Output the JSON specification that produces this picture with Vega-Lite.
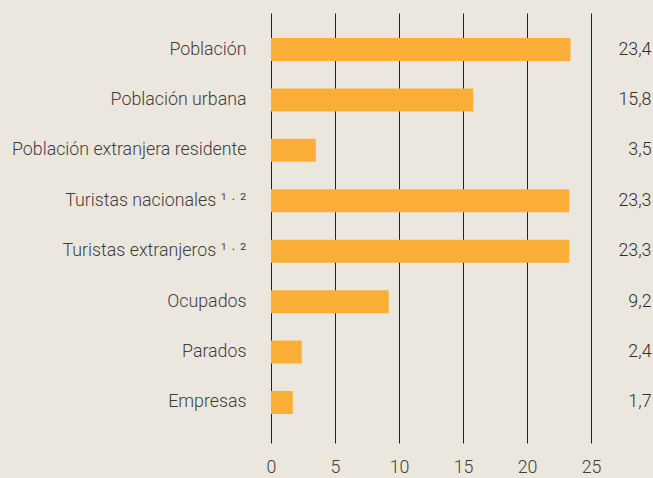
{
  "$schema": "https://vega.github.io/schema/vega-lite/v6.json",
  "width": 320,
  "height": 430,
  "autosize": "none",
  "padding": {"left": 271, "top": 13, "right": 62, "bottom": 35},
  "background": "#ebe7de",
  "config": {
    "view": {"stroke": null},
    "font": "Roboto",
    "axis": {"labelFont": "Roboto", "labelFontWeight": 300, "labelFontSize": 17.8, "labelColor": "#3d3d3d"}
  },
  "data": {
    "values": [
      {"key": "Población|23,4", "value": 23.4},
      {"key": "Población urbana|15,8", "value": 15.8},
      {"key": "Población extranjera residente|3,5", "value": 3.5},
      {"key": "Turistas nacionales ¹ · ²|23,3", "value": 23.3},
      {"key": "Turistas extranjeros ¹ · ²|23,3", "value": 23.3},
      {"key": "Ocupados|9,2", "value": 9.2},
      {"key": "Parados|2,4", "value": 2.4},
      {"key": "Empresas|1,7", "value": 1.7}
    ]
  },
  "layer": [
    {
      "mark": {"type": "bar", "color": "#fbaf36"},
      "encoding": {
        "x": {
          "field": "value", "type": "quantitative",
          "scale": {"domain": [0, 25], "nice": false},
          "axis": {"title": null, "values": [0, 5, 10, 15, 20, 25], "grid": true, "gridColor": "#222222", "gridWidth": 1, "gridOpacity": 1, "domain": false, "ticks": false, "labelPadding": 15, "labelBaseline": "top", "labelFlush": false}
        },
        "y": {
          "field": "key", "type": "nominal", "sort": null,
          "scale": {"paddingInner": 0.544, "paddingOuter": 0.536, "align": 0.463},
          "axis": {"title": null, "domain": false, "ticks": false, "labelPadding": 25, "labelExpr": "split(datum.label, '|')[0]", "labelLimit": 400}
        }
      }
    },
    {
      "mark": {"type": "bar", "opacity": 0},
      "encoding": {
        "x": {"field": "value", "type": "quantitative"},
        "y": {
          "field": "key", "type": "nominal", "sort": null,
          "axis": {"title": null, "orient": "right", "domain": false, "ticks": false, "labelPadding": 60, "labelAlign": "right", "labelExpr": "split(datum.label, '|')[1]", "labelColor": "#2e2e2e"}
        }
      }
    }
  ],
  "resolve": {"axis": {"y": "independent"}}
}
